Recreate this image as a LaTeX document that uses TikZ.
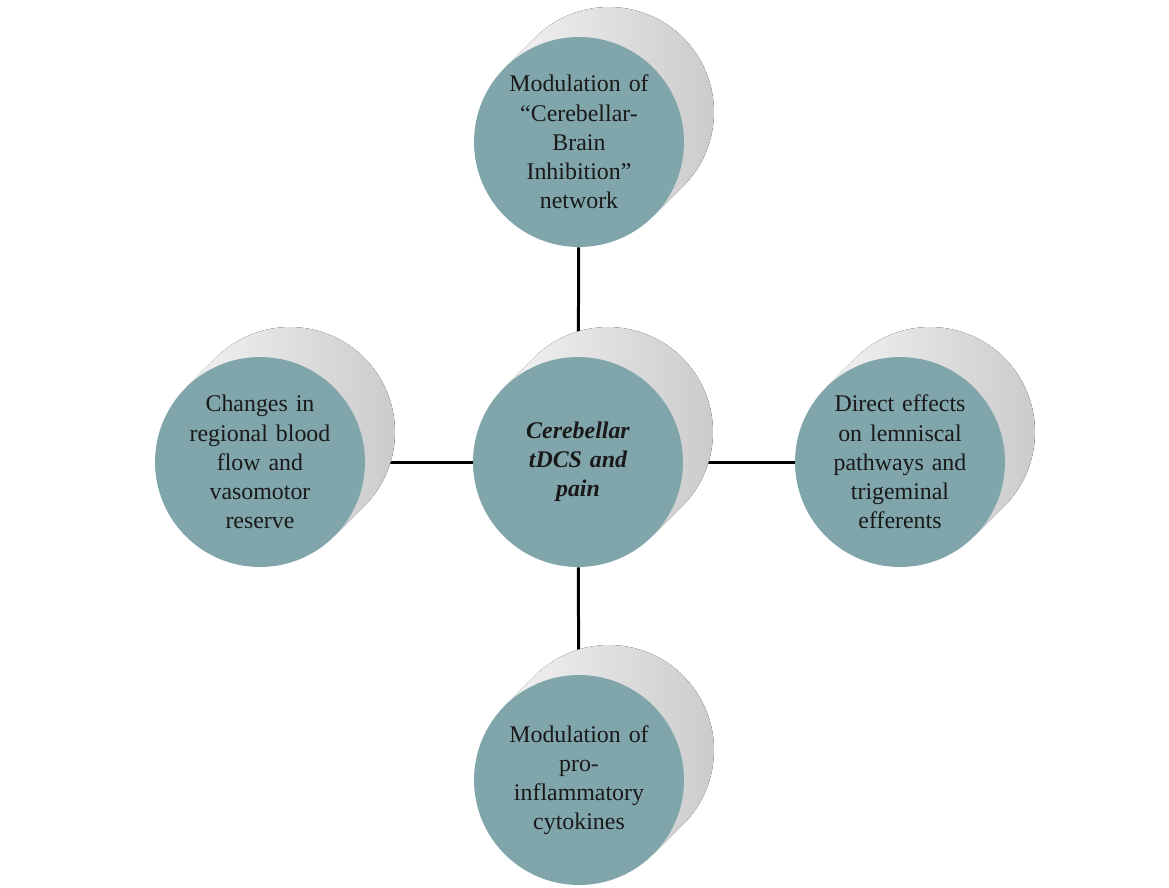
\documentclass[tikz,border=0pt]{standalone}
\usepackage{fontspec}
\setmainfont{Liberation Serif}
\usepackage{tikz}
\usetikzlibrary{positioning,calc,backgrounds}
\definecolor{discteal}{HTML}{80A6AB}
\tikzset{disc/.style={circle,fill=discteal,minimum size=4.2cm,inner sep=-10pt,
                      text width=3.2cm,align=center,text=black!90,
                      font=\fontsize{13.6}{16.6}\selectfont},
         link/.style={line width=1.7pt},
         rim/.style={left color=gray!10,middle color=gray!18,right color=gray!42}
}

\begin{document}
\begin{tikzpicture}[x=0.02cm,y=-0.02cm]
    \useasboundingbox (0,0) rectangle (1169,887);
    \node[disc] (C) at (578,462) {\textbf{\textit{Cerebellar\\ tDCS and\\ pain}}};
    \node[disc] (T) at (579,142) {Modulation of\\ ``Cerebellar-\\ Brain\\ Inhibition''\\ network};
    \node[disc] (L) at (260,462) {Changes in\\ regional blood\\ flow and\\ vasomotor\\ reserve};
    \node[disc] (R) at (900,462) {Direct effects\\ on lemniscal\\ pathways and\\ trigeminal\\ efferents};
    \node[disc] (B) at (579,780) {Modulation of\\ pro-\\ inflammatory\\ cytokines};

    \begin{pgfonlayer}{background}
    \draw[link] (T) -- (C);
    \draw[link] (L) -- (C);
    \draw[link] (C) -- (R);
    \draw[link] (C) -- (B);
    \foreach \n in {C,T,L,R,B}
        \fill[rim] ($(\n.center)+(135:2.1cm)$) -- ++(0.6cm,0.6cm)
            arc[start angle=135,end angle=-45,radius=2.1cm]
            -- ($(\n.center)+(-45:2.1cm)$) -- cycle;
    \end{pgfonlayer}
\end{tikzpicture}
\end{document}
